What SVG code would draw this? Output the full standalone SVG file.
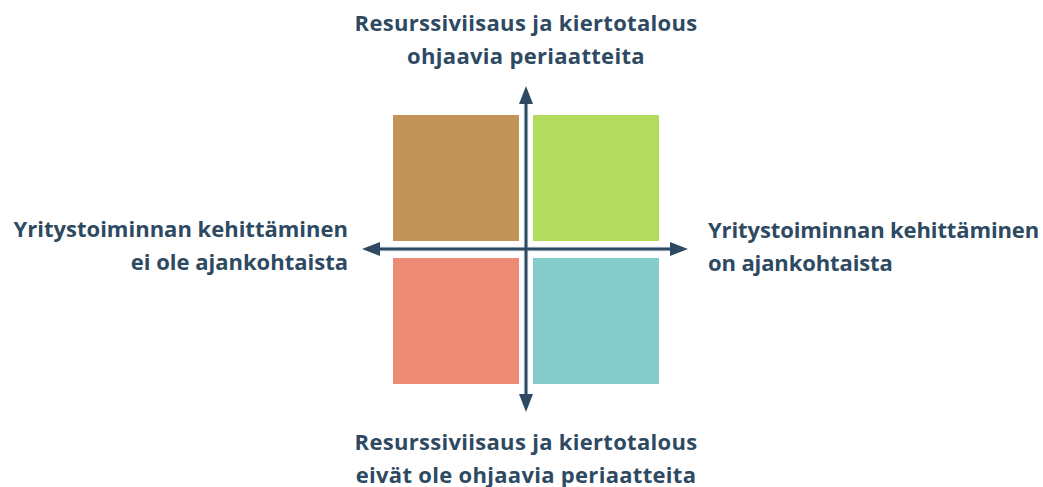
<svg xmlns="http://www.w3.org/2000/svg" width="1043" height="487" viewBox="0 0 1043 487">
<defs>
<style>
.lbl{font-family:"Open Sans","Liberation Sans",sans-serif;font-weight:700;font-size:22px;fill:#2e4a62}
.wide{letter-spacing:0.3px}
.narrow{letter-spacing:-0.12px}
.axis{stroke:#2e4a62;stroke-width:3;fill:none}
.halo{stroke:#e8eef2;stroke-width:5;fill:none}
</style>
<marker id="arr" markerUnits="userSpaceOnUse" markerWidth="18" markerHeight="14" refX="0" refY="7" orient="auto-start-reverse" overflow="visible">
<path d="M0,0 L18,7 L0,14 Z" fill="#2e4a62"/>
</marker>
</defs>
<rect width="1043" height="487" fill="#ffffff"/>
<g id="q-top-left"><rect x="393" y="115" width="126" height="126" fill="#c29458"/></g>
<g id="q-top-right"><rect x="533" y="115" width="126" height="126" fill="#b3dc5f"/></g>
<g id="q-bottom-left"><rect x="393" y="258" width="126" height="126" fill="#ed8a75"/></g>
<g id="q-bottom-right"><rect x="533" y="258" width="126" height="126" fill="#84ccca"/></g>
<g id="connectors">
<line class="halo" x1="526" y1="104" x2="526" y2="394"/>
<line class="halo" x1="380" y1="249" x2="670" y2="249"/>
<line class="axis" x1="526" y1="104" x2="526" y2="394" marker-start="url(#arr)" marker-end="url(#arr)"/>
<line class="axis" x1="380" y1="249" x2="670" y2="249" marker-start="url(#arr)" marker-end="url(#arr)"/>
</g>
<g id="label-top">
<text class="lbl wide" x="526" y="31" text-anchor="middle">Resurssiviisaus ja kiertotalous</text>
<text class="lbl wide" x="526" y="63.5" text-anchor="middle">ohjaavia periaatteita</text>
</g>
<g id="label-bottom">
<text class="lbl wide" x="526" y="450" text-anchor="middle">Resurssiviisaus ja kiertotalous</text>
<text class="lbl wide" x="526" y="482.5" text-anchor="middle">eivät ole ohjaavia periaatteita</text>
</g>
<g id="label-left">
<text class="lbl" x="348" y="237" text-anchor="end">Yritystoiminnan kehittäminen</text>
<text class="lbl" x="348" y="270" text-anchor="end">ei ole ajankohtaista</text>
</g>
<g id="label-right">
<text class="lbl narrow" x="708" y="238" text-anchor="start">Yritystoiminnan kehittäminen</text>
<text class="lbl narrow" x="708" y="271" text-anchor="start">on ajankohtaista</text>
</g>
</svg>
